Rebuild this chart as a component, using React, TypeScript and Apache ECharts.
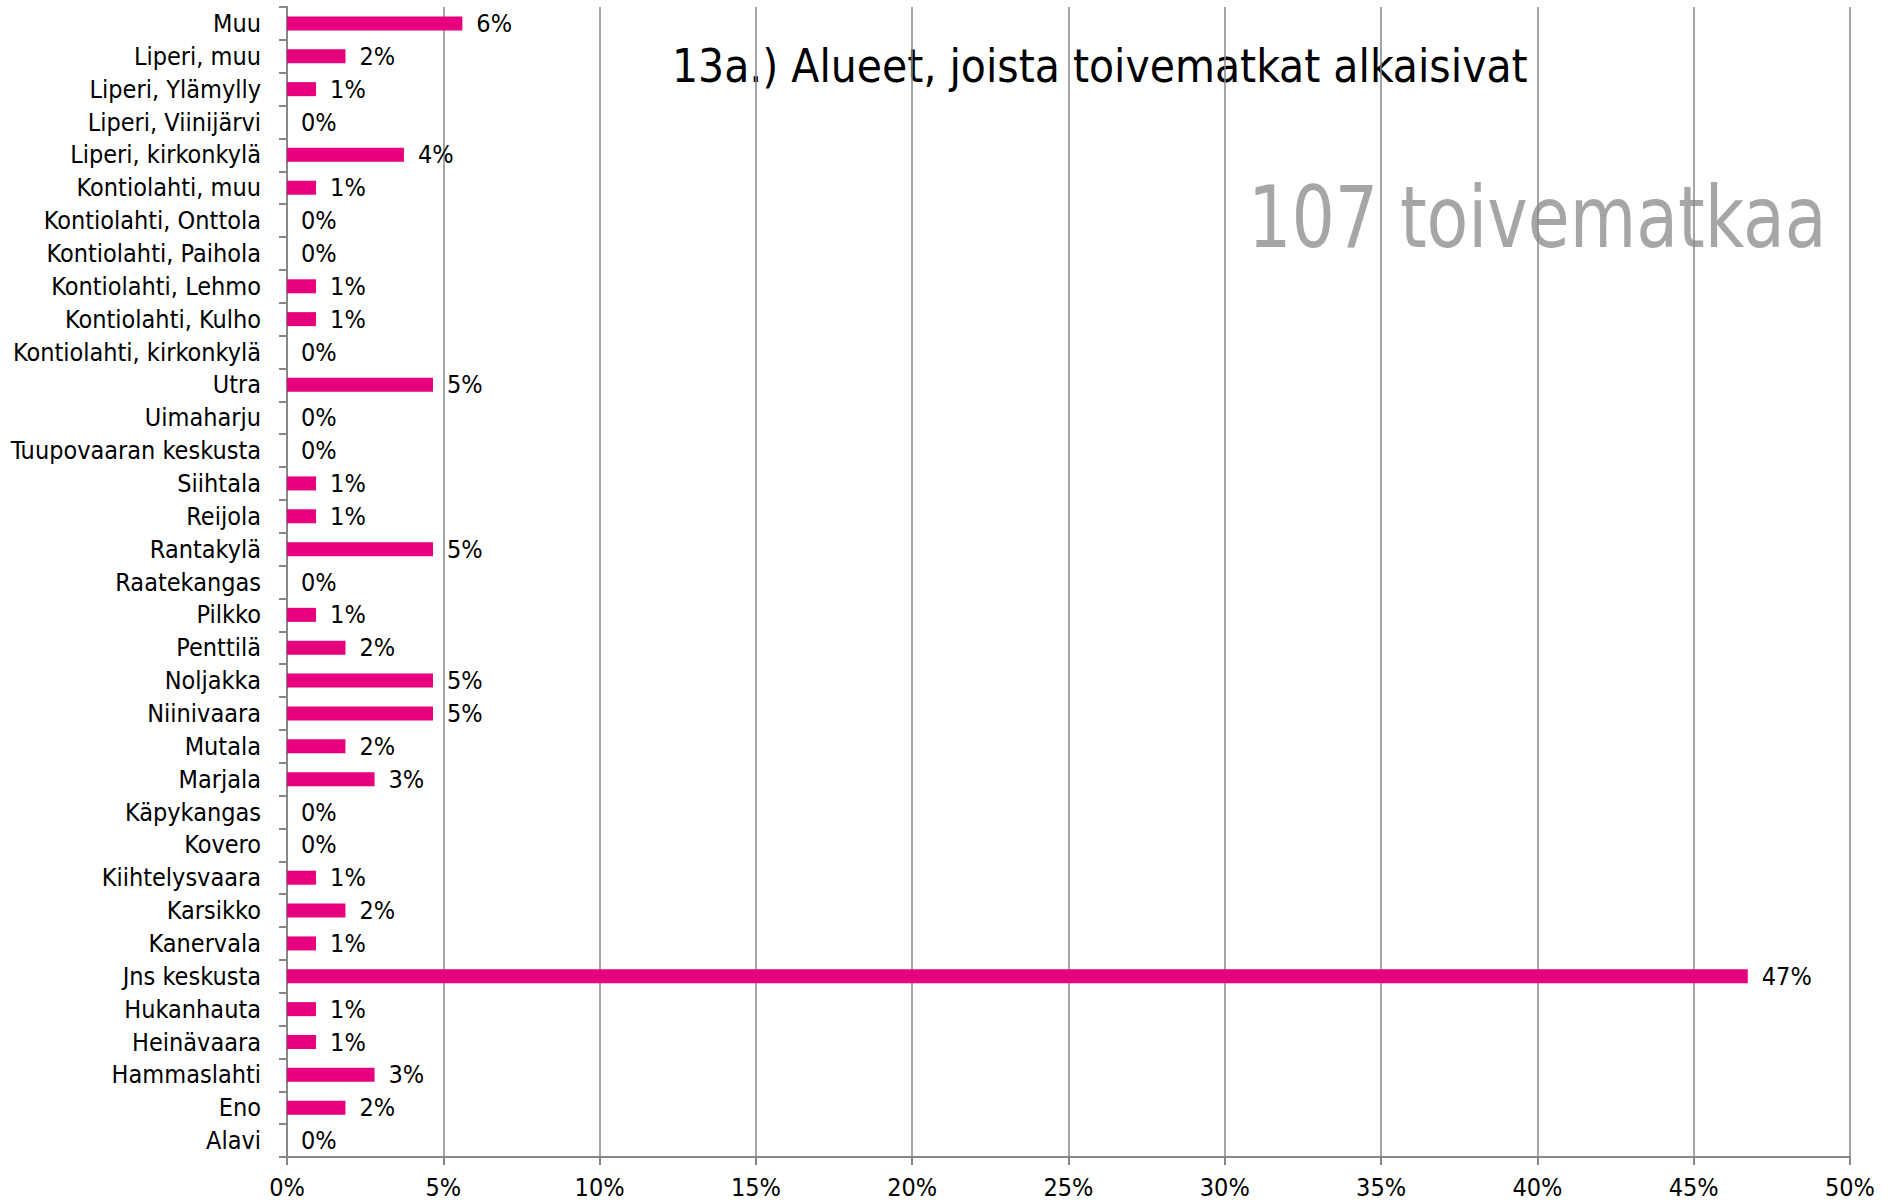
import React, { useEffect, useRef } from "react";
import * as echarts from "echarts";

const categories = [
  "Muu",
  "Liperi, muu",
  "Liperi, Ylämylly",
  "Liperi, Viinijärvi",
  "Liperi, kirkonkylä",
  "Kontiolahti, muu",
  "Kontiolahti, Onttola",
  "Kontiolahti, Paihola",
  "Kontiolahti, Lehmo",
  "Kontiolahti, Kulho",
  "Kontiolahti, kirkonkylä",
  "Utra",
  "Uimaharju",
  "Tuupovaaran keskusta",
  "Siihtala",
  "Reijola",
  "Rantakylä",
  "Raatekangas",
  "Pilkko",
  "Penttilä",
  "Noljakka",
  "Niinivaara",
  "Mutala",
  "Marjala",
  "Käpykangas",
  "Kovero",
  "Kiihtelysvaara",
  "Karsikko",
  "Kanervala",
  "Jns keskusta",
  "Hukanhauta",
  "Heinävaara",
  "Hammaslahti",
  "Eno",
  "Alavi",
];

const shares = [
  5.61, 1.87, 0.93, 0, 3.74, 0.93, 0, 0, 0.93, 0.93, 0, 4.67, 0, 0, 0.93, 0.93,
  4.67, 0, 0.93, 1.87, 4.67, 4.67, 1.87, 2.8, 0, 0, 0.93, 1.87, 0.93, 46.73,
  0.93, 0.93, 2.8, 1.87, 0,
];

const xTicks = [0, 5, 10, 15, 20, 25, 30, 35, 40, 45, 50];

const titleText = "13a.) Alueet, joista toivematkat alkaisivat";
const subText = "107 toivematkaa";

const FONT = "'Liberation Sans Narrow', 'DejaVu Sans Condensed', 'Liberation Sans', sans-serif";

export default function App() {
  const ref = useRef<HTMLDivElement>(null);
  useEffect(() => {
    if (!ref.current) return;
    const chart = echarts.init(ref.current, undefined, { renderer: "svg" });
    chart.setOption({
      animation: false,
      backgroundColor: "#ffffff",
      grid: { left: 287, right: 44, top: 7, bottom: 47, containLabel: false },
      xAxis: {
        type: "value",
        min: xTicks[0],
        max: xTicks[xTicks.length - 1],
        interval: 5,
        axisLine: { show: true, lineStyle: { color: "#878787", width: 2 } },
        axisTick: { show: true, length: 8, lineStyle: { color: "#878787", width: 2 } },
        splitLine: { show: true, lineStyle: { color: "#878787", width: 1.5 } },
        axisLabel: {
          formatter: (v: number) => v + "%",
          fontFamily: FONT,
          fontSize: 25,
          color: "#000000",
          margin: 18,
        },
      },
      yAxis: {
        type: "category",
        inverse: true,
        data: categories,
        axisLine: { show: true, lineStyle: { color: "#878787", width: 2 } },
        axisTick: { show: true, length: 8, lineStyle: { color: "#878787", width: 2 } },
        axisLabel: {
          fontFamily: FONT,
          fontSize: 25,
          color: "#000000",
          margin: 26,
          interval: 0,
        },
      },
      series: [
        {
          type: "bar",
          data: shares,
          barWidth: 14,
          itemStyle: { color: "#E6007E" },
          label: {
            show: true,
            position: "right",
            distance: 14,
            formatter: (p: any) => Math.round(p.value) + "%",
            fontFamily: FONT,
            fontSize: 25,
            color: "#000000",
          },
        },
      ],
      graphic: [
        {
          type: "text",
          x: 672,
          y: 66,
          style: {
            text: titleText,
            font: "45.6px " + FONT,
            fill: "#000000",
            textAlign: "left",
            textVerticalAlign: "middle",
          },
        },
        {
          type: "text",
          x: 1248,
          y: 217,
          scaleX: 0.882,
          style: {
            text: subText,
            font: "86px " + FONT,
            fill: "#a6a6a6",
            textAlign: "left",
            textVerticalAlign: "middle",
          },
        },
      ],
    });
    return () => chart.dispose();
  }, []);
  return (
    <div
      ref={ref}
      style={{ position: "fixed", left: 0, top: 0, width: 1894, height: 1204 }}
    />
  );
}
